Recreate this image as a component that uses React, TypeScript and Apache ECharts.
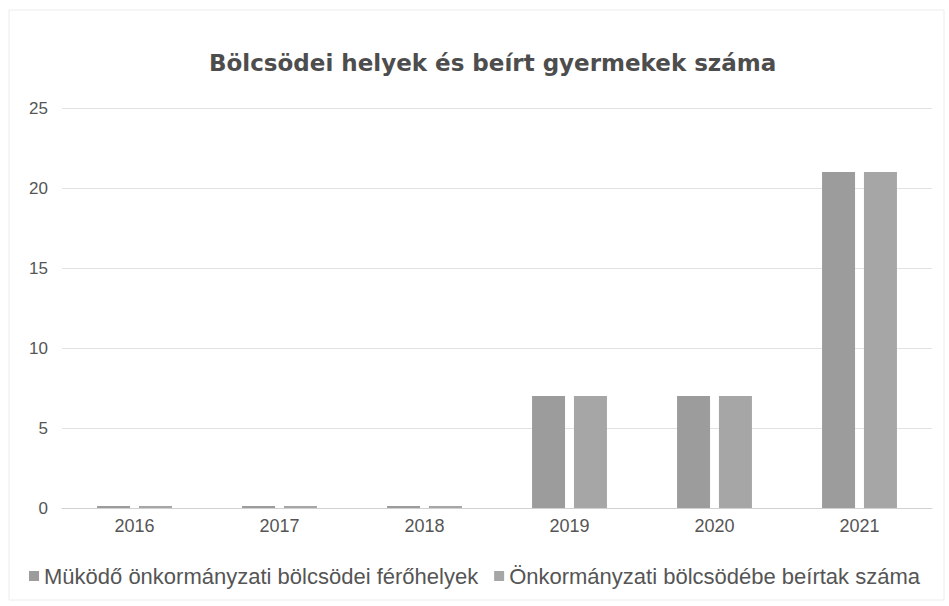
import React, { useEffect, useRef } from "react";
import * as echarts from "echarts";

const titleText = "Bölcsödei helyek és beírt gyermekek száma";
const years = ["2016", "2017", "2018", "2019", "2020", "2021"];
const seriesNames = [
  "Müködő önkormányzati bölcsödei férőhelyek",
  "Önkormányzati bölcsödébe beírtak száma",
];
const places = [0, 0, 0, 7, 7, 21];
const enrolled = [0, 0, 0, 7, 7, 21];
const yTicks = { min: 0, max: 25, interval: 5 };

export default function App() {
  const ref = useRef<HTMLDivElement>(null);
  useEffect(() => {
    if (!ref.current) return;
    const chart = echarts.init(ref.current, null, { renderer: "svg" });
    chart.setOption({
      animation: false,
      backgroundColor: "#ffffff",
      title: {
        text: titleText,
        left: 204,
        top: 46,
        textStyle: {
          fontFamily: "DejaVu Sans",
          fontWeight: "bold",
          fontSize: 23,
          color: "#4d4d4d",
        },
      },
      legend: {
        bottom: 14,
        left: "center",
        itemWidth: 10,
        itemHeight: 10,
        itemGap: 16,
        icon: "rect",
        textStyle: {
          fontFamily: "Liberation Sans",
          fontSize: 22,
          color: "#555555",
        },
        data: seriesNames,
      },
      grid: { left: 62, right: 17, top: 108, bottom: 98 },
      xAxis: {
        type: "category",
        data: years,
        axisLine: { lineStyle: { color: "#d0d0d0" } },
        axisTick: { show: false },
        axisLabel: {
          fontFamily: "Liberation Sans",
          fontSize: 18,
          color: "#555555",
          margin: 9,
        },
      },
      yAxis: {
        type: "value",
        min: yTicks.min,
        max: yTicks.max,
        interval: yTicks.interval,
        axisLine: { show: false },
        axisTick: { show: false },
        splitLine: { lineStyle: { color: "#e2e2e2" } },
        axisLabel: {
          fontFamily: "Liberation Sans",
          fontSize: 17,
          color: "#555555",
          margin: 14,
        },
      },
      series: [
        {
          name: seriesNames[0],
          type: "bar",
          data: places,
          barWidth: 33,
          barGap: "27%",
          barMinHeight: 2,
          itemStyle: { color: "#9c9c9c" },
        },
        {
          name: seriesNames[1],
          type: "bar",
          data: enrolled,
          barWidth: 33,
          barMinHeight: 2,
          itemStyle: { color: "#a6a6a6" },
        },
      ],
      graphic: [
        {
          type: "rect",
          shape: { x: 9, y: 10, width: 935, height: 590 },
          style: { fill: "none", stroke: "#ececec", lineWidth: 1 },
          silent: true,
        },
      ],
    });
    return () => chart.dispose();
  }, []);
  return (
    <div
      ref={ref}
      style={{ position: "fixed", left: 0, top: 0, width: 949, height: 606 }}
    />
  );
}
